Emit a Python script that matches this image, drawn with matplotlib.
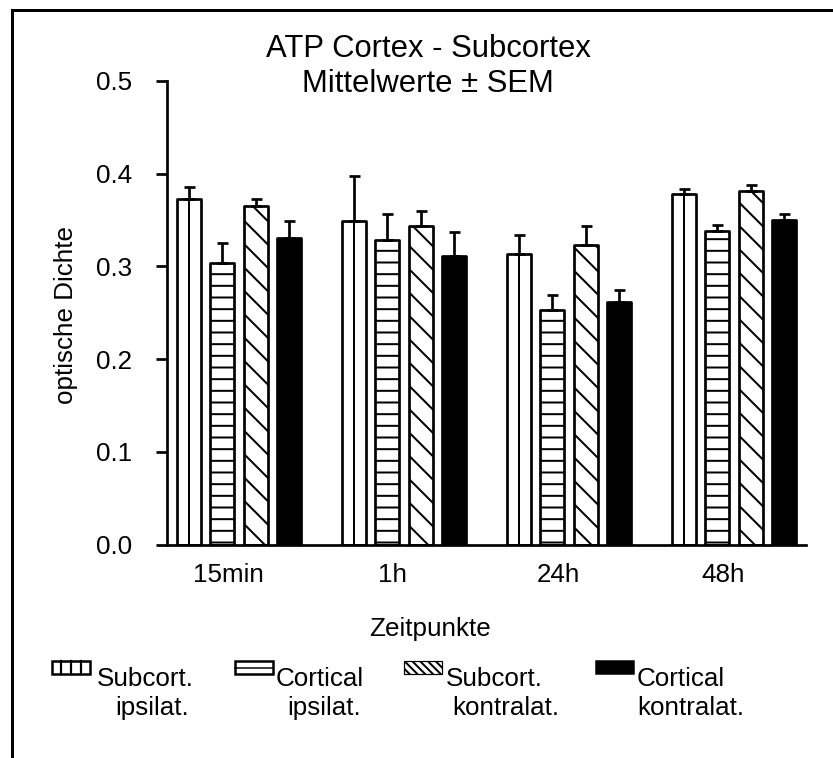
import numpy as np
import matplotlib
matplotlib.use("Agg")
import matplotlib.pyplot as plt
from matplotlib.patches import Rectangle
from matplotlib.lines import Line2D

# dpi 70 -> matplotlib hatch spacing (1/6 inch) is ~11.7 px, like the original
DPI  = 70
W_PX = 833
H_PX = 758

ZEITPUNKTE = ["15min", "1h", "24h", "48h"]

# Mittelwerte und SEM
subcort_ipsi    = [0.372, 0.349, 0.313, 0.378]
subcort_ipsi_e  = [0.013, 0.048, 0.021, 0.0055]
cortical_ipsi   = [0.304, 0.328, 0.253, 0.338]
cortical_ipsi_e = [0.021, 0.028, 0.016, 0.006]
subcort_kontra    = [0.3645, 0.343, 0.323, 0.381]
subcort_kontra_e  = [0.008, 0.017, 0.020, 0.0065]
cortical_kontra   = [0.3305, 0.3115, 0.261, 0.350]
cortical_kontra_e = [0.0185, 0.025, 0.014, 0.006]

LEGENDE_1 = ["Subcort.", "Cortical", "Subcort.", "Cortical"]
LEGENDE_2 = ["ipsilat.", "ipsilat.", "kontralat.", "kontralat."]
Y_TICKS   = [0.0, 0.1, 0.2, 0.3, 0.4, 0.5]

CAT_PX    = 165.0                      # Breite einer Kategorie in Pixeln
BAR_W     = 24 / CAT_PX
OFFSETS   = np.array([-39, -5.7, 27.6, 61]) / CAT_PX


def pt(px):
    return px * 72 / DPI


def fx(px):
    return px / W_PX


def fy(py):
    return 1 - py / H_PX


plt.rcParams["font.family"] = ["Liberation Sans", "DejaVu Sans"]
plt.rcParams["hatch.linewidth"] = pt(2)

fig = plt.figure(figsize=(W_PX / DPI, H_PX / DPI), dpi=DPI)
ax = fig.add_axes([fx(167), fy(544.7), (805.5 - 167) / W_PX, (544.7 - 80.7) / H_PX])

x = np.arange(len(ZEITPUNKTE))
serien = [
    (subcort_ipsi,    subcort_ipsi_e,    "white", None),
    (cortical_ipsi,   cortical_ipsi_e,   "white", "-"),
    (subcort_kontra,  subcort_kontra_e,  "white", "\\"),
    (cortical_kontra, cortical_kontra_e, "black", None),
]

for i, (vals, errs, fc, hatch) in enumerate(serien):
    pos = x + OFFSETS[i]
    ax.bar(pos, vals, BAR_W, facecolor=fc, hatch=hatch, edgecolor="black",
           linewidth=pt(2.7), joinstyle="round", zorder=2)
    ax.errorbar(pos, vals, yerr=[np.zeros(len(vals)), errs], fmt="none",
                ecolor="black", elinewidth=pt(2.7), capsize=pt(5.5),
                capthick=pt(2.7), zorder=3)
    if i == 0:
        # senkrechte Mittellinie statt Schraffur
        ax.vlines(pos, 0, vals, color="black", lw=pt(2), zorder=3)

ax.set_xlim(-0.5 + 21.5 / CAT_PX, 3.5)
ax.set_ylim(0, 0.5)
ax.set_yticks(Y_TICKS)
ax.set_yticklabels([f"{v:.1f}" for v in Y_TICKS])
ax.set_xticks(x)
ax.set_xticklabels(ZEITPUNKTE)

for s in ["top", "right"]:
    ax.spines[s].set_visible(False)
for s in ["left", "bottom"]:
    ax.spines[s].set_linewidth(pt(2.7))

ax.tick_params(axis="y", direction="out", length=pt(11), width=pt(2.7),
               pad=pt(24), labelsize=pt(26))
ax.tick_params(axis="x", length=0, pad=pt(18), labelsize=pt(26))

# Titel und Achsentitel
fig.text(fx(428), fy(57), "ATP Cortex - Subcortex", ha="center", va="baseline", fontsize=pt(31))
fig.text(fx(428), fy(92), "Mittelwerte \u00b1 SEM", ha="center", va="baseline", fontsize=pt(31))
fig.text(fx(66), fy(315), "optische Dichte", ha="center", va="center", rotation=90, fontsize=pt(26))
fig.text(fx(430), fy(636), "Zeitpunkte", ha="center", va="baseline", fontsize=pt(26))

# Legende von Hand
box_x  = [52, 235, 404, 596]
text1_x = [97, 276, 446, 637]
text2_x = [115, 287, 452, 637]
bw, bh, btop = 38, 13, 661

for k in range(4):
    x0 = box_x[k]
    if k == 2:
        rect = Rectangle((fx(x0), fy(btop + bh)), bw / W_PX, bh / H_PX, facecolor="white",
                         edgecolor="black", hatch="\\\\\\", lw=pt(1.2), transform=fig.transFigure)
    elif k == 3:
        rect = Rectangle((fx(x0), fy(btop + bh)), bw / W_PX, bh / H_PX, facecolor="black",
                         edgecolor="black", lw=pt(1.5), transform=fig.transFigure)
    else:
        rect = Rectangle((fx(x0), fy(btop + bh)), bw / W_PX, bh / H_PX, facecolor="white",
                         edgecolor="black", lw=pt(2.5), transform=fig.transFigure)
    fig.add_artist(rect)
    if k == 0:
        for j in range(1, 4):
            xl = x0 + j * bw / 4
            fig.add_artist(Line2D([fx(xl), fx(xl)], [fy(btop), fy(btop + bh)],
                                  color="black", lw=pt(2.2), transform=fig.transFigure))
    if k == 1:
        yl = btop + bh / 2
        fig.add_artist(Line2D([fx(x0), fx(x0 + bw)], [fy(yl), fy(yl)],
                              color="black", lw=pt(1.5), transform=fig.transFigure))
    fig.text(fx(text1_x[k]), fy(686), LEGENDE_1[k], ha="left", va="baseline", fontsize=pt(26))
    fig.text(fx(text2_x[k]), fy(715), LEGENDE_2[k], ha="left", va="baseline", fontsize=pt(26))

# Rahmen (rechts und unten abgeschnitten)
fig.add_artist(Line2D([fx(12), fx(12)], [fy(10), fy(770)], color="black", lw=pt(3),
                      transform=fig.transFigure))
fig.add_artist(Line2D([fx(12), fx(850)], [fy(10), fy(10)], color="black", lw=pt(3),
                      transform=fig.transFigure))

fig.savefig("out.png", dpi=DPI)
